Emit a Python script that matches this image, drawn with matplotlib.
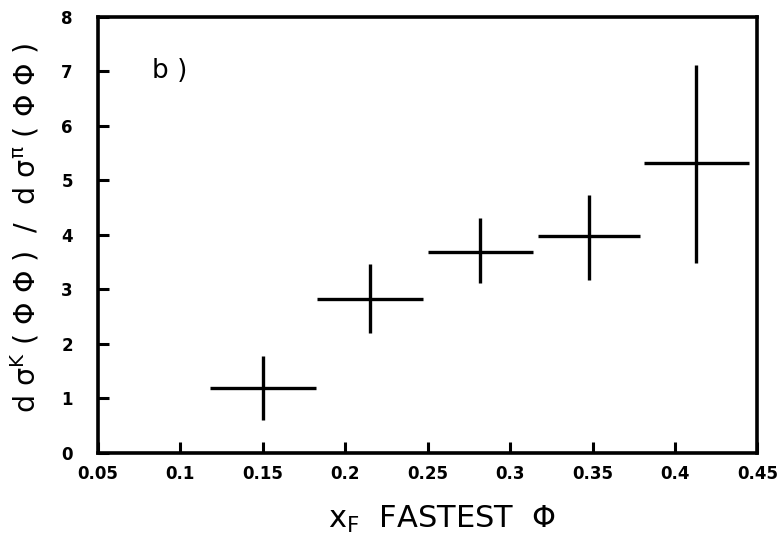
import matplotlib
matplotlib.use("Agg")
import matplotlib.pyplot as plt
import numpy as np

# Data
x_center = [0.150, 0.215, 0.282, 0.348, 0.413]
x_halfwidth = [0.032, 0.032, 0.032, 0.031, 0.032]
ratio = [1.19, 2.83, 3.69, 3.97, 5.32]
err_up = [0.58, 0.64, 0.61, 0.76, 1.80]
err_down = [0.59, 0.64, 0.58, 0.79, 1.83]

xticks = [0.05, 0.1, 0.15, 0.2, 0.25, 0.3, 0.35, 0.4, 0.45]
xtick_labels = ["0.05", "0.1", "0.15", "0.2", "0.25", "0.3", "0.35", "0.4", "0.45"]
yticks = [0, 1, 2, 3, 4, 5, 6, 7, 8]
ytick_labels = [str(v) for v in yticks]

fig = plt.figure(figsize=(7.84, 5.43), dpi=100)
ax = fig.add_axes([0.125, 0.166, 0.841, 0.803])

ax.errorbar(x_center, ratio, xerr=x_halfwidth, yerr=[err_down, err_up],
            fmt='none', ecolor='black', elinewidth=2.4, capsize=0)

ax.set_xlim(0.05, 0.45)
ax.set_ylim(0, 8)
ax.set_xticks(xticks)
ax.set_xticklabels(xtick_labels, fontsize=12, fontweight='heavy')
ax.set_yticks(yticks)
ax.set_yticklabels(ytick_labels, fontsize=12, fontweight='heavy')
ax.tick_params(axis='both', direction='in', length=8, width=2.2, colors='black')
ax.tick_params(axis='x', pad=9)
ax.tick_params(axis='y', pad=18)
for s in ax.spines.values():
    s.set_linewidth(2.6)

ax.text(0.083, 7.0, "b )", fontsize=19, va='center', ha='left')

ax.set_xlabel(r"x$_{\mathrm{F}}$  FASTEST  Φ", fontsize=22)
ax.xaxis.set_label_coords(0.522, -0.118)
ax.set_ylabel(r"d σ$^{\mathrm{K}}$ ( Φ Φ )  /  d σ$^{\mathrm{\pi}}$ ( Φ Φ )", fontsize=20.5)
ax.yaxis.set_label_coords(-0.085, 0.515)

fig.savefig("out.png", dpi=100)
